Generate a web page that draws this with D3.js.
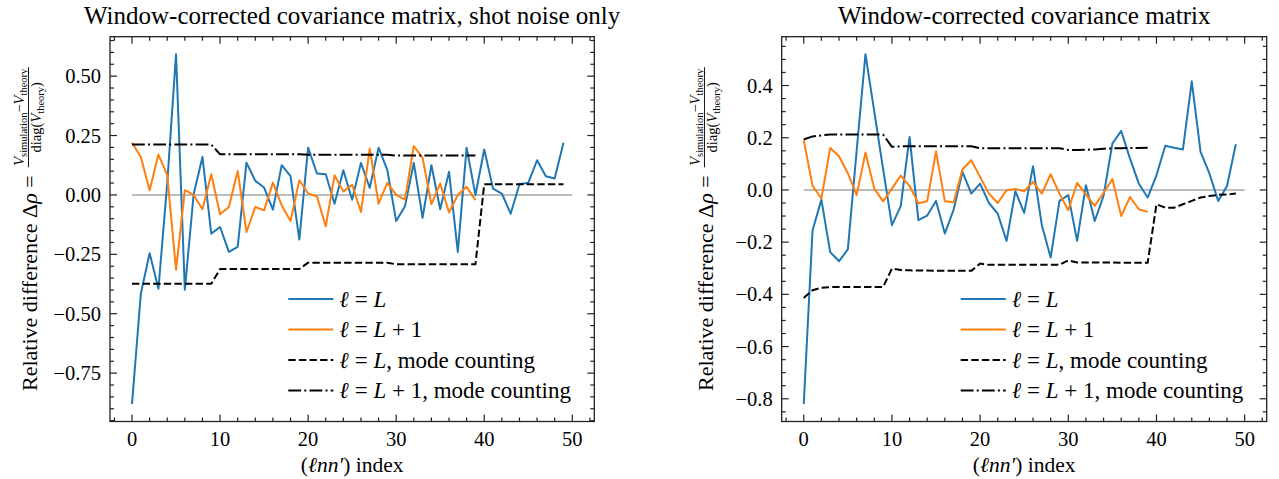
<!DOCTYPE html>
<html><head><meta charset="utf-8">
<script src="https://cdn.jsdelivr.net/npm/d3@7"></script>
<style>body{margin:0;background:#fff}svg{display:block}text{font-family:'Liberation Serif','DejaVu Serif',serif}</style>
</head><body>
<svg id="chart" width="1279" height="479"></svg>
<script>
// ---------- data ----------
const xTicks = [0, 10, 20, 30, 40, 50];
const leftYTicks = [-0.75, -0.5, -0.25, 0, 0.25, 0.5];
const rightYTicks = [-0.8, -0.6, -0.4, -0.2, 0, 0.2, 0.4];
const titles = ["Window-corrected covariance matrix, shot noise only", "Window-corrected covariance matrix"];

const leftLeqL = [-0.88, -0.416, -0.245, -0.395, 0.05, 0.5925, -0.399, 0.003, 0.160, -0.163,
  -0.135, -0.240, -0.219, 0.136, 0.059, 0.031, -0.062, 0.125, 0.079, -0.188,
  0.199, 0.090, 0.087, -0.037, 0.104, -0.020, 0.135, 0.030, 0.199, 0.104,
  -0.110, -0.048, 0.135, -0.096, 0.125, -0.060, 0.097, -0.240, 0.199, 0.000,
  0.191, 0.027, 0.006, -0.079, 0.045, 0.051, 0.146, 0.079, 0.069, 0.220];
const leftLeqL1 = [0.220, 0.160, 0.020, 0.170, 0.083, -0.315, 0.020, 0.000, -0.060, 0.087,
  -0.081, -0.051, 0.101, -0.156, -0.051, -0.065, 0.052, -0.044, -0.110, 0.062,
  0.006, -0.006, -0.132, 0.083, 0.015, 0.043, -0.072, 0.195, -0.037, 0.051,
  0.000, -0.020, 0.206, 0.156, -0.039, 0.048, -0.074, 0.000, 0.034, -0.022];
const leftModeL = [-0.374, -0.374, -0.374, -0.374, -0.374, -0.374, -0.374, -0.374, -0.374, -0.374,
  -0.312, -0.312, -0.312, -0.312, -0.312, -0.312, -0.312, -0.312, -0.312, -0.312,
  -0.285, -0.285, -0.285, -0.285, -0.285, -0.285, -0.285, -0.285, -0.285, -0.285,
  -0.292, -0.292, -0.292, -0.292, -0.292, -0.292, -0.292, -0.292, -0.292, -0.292,
  0.045, 0.045, 0.045, 0.045, 0.045, 0.045, 0.045, 0.045, 0.045, 0.045];
const leftModeL1 = [0.212, 0.212, 0.212, 0.212, 0.212, 0.212, 0.212, 0.212, 0.212, 0.212,
  0.171, 0.171, 0.171, 0.171, 0.171, 0.171, 0.171, 0.171, 0.171, 0.171,
  0.169, 0.169, 0.169, 0.169, 0.169, 0.169, 0.169, 0.169, 0.169, 0.169,
  0.166, 0.166, 0.166, 0.166, 0.166, 0.166, 0.166, 0.166, 0.166, 0.166];

const rightLeqL = [-0.82, -0.155, -0.037, -0.238, -0.273, -0.228, 0.15, 0.52, 0.30, 0.08,
  -0.135, -0.062, 0.203, -0.116, -0.098, -0.042, -0.167, -0.075, 0.069, -0.014,
  0.024, -0.050, -0.091, -0.195, -0.005, -0.088, 0.091, -0.135, -0.259, -0.042,
  -0.020, -0.195, 0.018, -0.119, -0.023, 0.178, 0.226, 0.120, 0.024, -0.029,
  0.056, 0.169, 0.162, 0.155, 0.416, 0.146, 0.063, -0.042, 0.015, 0.175];
const rightLeqL1 = [0.190, 0.016, -0.033, 0.161, 0.129, 0.064, -0.020, 0.143, 0.005, -0.044,
  0.005, 0.055, 0.015, -0.051, -0.043, 0.148, -0.043, -0.047, 0.079, 0.114,
  0.050, -0.014, -0.050, -0.001, 0.004, -0.005, 0.031, -0.014, 0.060, -0.014,
  -0.078, 0.027, -0.017, -0.061, -0.011, 0.042, -0.100, -0.027, -0.074, -0.084];
const rightModeL = [-0.414, -0.384, -0.375, -0.372, -0.372, -0.372, -0.372, -0.372, -0.372, -0.372,
  -0.301, -0.307, -0.308, -0.309, -0.309, -0.310, -0.310, -0.310, -0.310, -0.310,
  -0.282, -0.287, -0.287, -0.287, -0.287, -0.287, -0.287, -0.287, -0.287, -0.287,
  -0.270, -0.278, -0.278, -0.278, -0.278, -0.278, -0.279, -0.279, -0.279, -0.279,
  -0.055, -0.068, -0.068, -0.055, -0.042, -0.029, -0.023, -0.019, -0.017, -0.014];
const rightModeL1 = [0.193, 0.205, 0.209, 0.212, 0.212, 0.212, 0.212, 0.212, 0.212, 0.212,
  0.165, 0.167, 0.167, 0.167, 0.167, 0.167, 0.167, 0.167, 0.167, 0.167,
  0.160, 0.160, 0.160, 0.160, 0.160, 0.160, 0.160, 0.160, 0.160, 0.160,
  0.153, 0.153, 0.154, 0.155, 0.158, 0.159, 0.160, 0.161, 0.161, 0.162];

// ---------- styling ----------
const BLUE = "#1f77b4", ORANGE = "#ff7f0e";
const svg = d3.select("#chart");

function rich(textSel, parts) {
  let shift = 0;
  parts.forEach(p => {
    const target = p.dy || 0;
    const ts = textSel.append("tspan").text(p.t);
    if (target !== shift) { ts.attr("dy", target - shift); shift = target; }
    if (p.i) ts.attr("font-style", "italic");
    if (p.s) ts.attr("font-size", p.s);
  });
  return textSel;
}

const legendItems = [
  { parts: [{t:"ℓ", i:1}, {t:" = "}, {t:"L", i:1}], color: BLUE, dash: null },
  { parts: [{t:"ℓ", i:1}, {t:" = "}, {t:"L", i:1}, {t:" + 1"}], color: ORANGE, dash: null },
  { parts: [{t:"ℓ", i:1}, {t:" = "}, {t:"L", i:1}, {t:", mode counting"}], color: "#000", dash: "7.4,3.2" },
  { parts: [{t:"ℓ", i:1}, {t:" = "}, {t:"L", i:1}, {t:" + 1, mode counting"}], color: "#000", dash: "12.8,3.2,2,3.2" }
];

function panel(cfg) {
  const g = svg.append("g");
  const x = d3.scaleLinear().domain([-2.5, 52.5]).range([cfg.left, cfg.right]);
  const y = d3.scaleLinear().domain(cfg.yDomain).range([cfg.bottom, cfg.top]);

  // zero reference line
  g.append("line").attr("x1", x(0)).attr("x2", x(50)).attr("y1", y(0)).attr("y2", y(0))
    .attr("stroke", "#bdbdbd").attr("stroke-width", 2);

  const line = d3.line().x((d, i) => x(i)).y(d => y(d));
  const series = [
    { d: cfg.leqL, c: BLUE, dash: null },
    { d: cfg.leqL1, c: ORANGE, dash: null },
    { d: cfg.modeL, c: "#000", dash: "7.4,3.2" },
    { d: cfg.modeL1, c: "#000", dash: "12.8,3.2,2,3.2" }
  ];
  series.forEach(s => {
    g.append("path").datum(s.d).attr("d", line).attr("fill", "none")
      .attr("stroke", s.c).attr("stroke-width", 2).attr("stroke-linejoin", "round")
      .attr("stroke-dasharray", s.dash);
  });

  // frame
  g.append("rect").attr("x", cfg.left).attr("y", cfg.top)
    .attr("width", cfg.right - cfg.left).attr("height", cfg.bottom - cfg.top)
    .attr("fill", "none").attr("stroke", "#222").attr("stroke-width", 1.3);

  // ticks (inward on all sides)
  const MAJ = 7, MIN = 4, tc = "#222", tw = 1.2;
  const xMinor = d3.range(-2, 53, 2).filter(v => v % 10 !== 0 && v >= -2.5 && v <= 52.5);
  const yMinor = d3.range(Math.ceil(cfg.yDomain[0] / 0.05), Math.floor(cfg.yDomain[1] / 0.05) + 1)
    .map(k => k * 0.05).filter(v => !cfg.yTicks.some(t => Math.abs(t - v) < 1e-6));
  const tg = g.append("g").attr("stroke", tc).attr("stroke-width", tw);
  function xt(vals, len) {
    vals.forEach(v => {
      tg.append("line").attr("x1", x(v)).attr("x2", x(v)).attr("y1", cfg.bottom).attr("y2", cfg.bottom - len);
      tg.append("line").attr("x1", x(v)).attr("x2", x(v)).attr("y1", cfg.top).attr("y2", cfg.top + len);
    });
  }
  function yt(vals, len) {
    vals.forEach(v => {
      tg.append("line").attr("y1", y(v)).attr("y2", y(v)).attr("x1", cfg.left).attr("x2", cfg.left + len);
      tg.append("line").attr("y1", y(v)).attr("y2", y(v)).attr("x1", cfg.right).attr("x2", cfg.right - len);
    });
  }
  xt(xTicks, MAJ); xt(xMinor, MIN); yt(cfg.yTicks, MAJ); yt(yMinor, MIN);

  // tick labels
  xTicks.forEach(v => {
    g.append("text").attr("x", x(v)).attr("y", 446).attr("text-anchor", "middle")
      .attr("font-size", 20.5).text(String(v));
  });
  cfg.yTicks.forEach(v => {
    g.append("text").attr("x", cfg.left - 9).attr("y", y(v) + 7).attr("text-anchor", "end")
      .attr("font-size", 20.5).text(d3.format(cfg.fmt)(v).replace("-", "\u2212"));
  });

  // title
  g.append("text").attr("x", (cfg.left + cfg.right) / 2).attr("y", 24).attr("text-anchor", "middle")
    .attr("font-size", 25).text(cfg.title);

  // x label
  rich(g.append("text").attr("x", (cfg.left + cfg.right) / 2).attr("y", 472).attr("text-anchor", "middle")
    .attr("font-size", 21.5), [{t:"("}, {t:"ℓnn′", i:1}, {t:") index"}]);

  // y label (rotated) with fraction
  const yl = g.append("g").attr("transform", `translate(${cfg.ylabX},${(cfg.top + cfg.bottom) / 2}) rotate(-90)`)
    .attr("font-size", 22);
  const main = rich(yl.append("text").attr("x", 0).attr("y", 0),
    [{t:"Relative difference Δ"}, {t:"ρ", i:1}, {t:" ="}]);
  const mainW = main.node().getComputedTextLength();
  const num = rich(yl.append("text").attr("y", -13).attr("font-size", 14.5).attr("text-anchor", "middle"),
    [{t:"V", i:1}, {t:"simulation", s:10.5, dy:3}, {t:"−"}, {t:"V", i:1}, {t:"theory", s:10.5, dy:3}]);
  const den = rich(yl.append("text").attr("y", 4).attr("font-size", 14.5).attr("text-anchor", "middle"),
    [{t:"diag("}, {t:"V", i:1}, {t:"theory", s:10.5, dy:3}, {t:")"}]);
  const numW = num.node().getComputedTextLength();
  const denW = den.node().getComputedTextLength();
  const fracW = Math.max(numW, denW) + 3;
  const gap = 8;
  const total = mainW + gap + fracW;
  const start = -total / 2;
  main.attr("x", start);
  const fc = start + mainW + gap + fracW / 2;
  num.attr("x", fc); den.attr("x", fc);
  yl.append("line").attr("x1", fc - fracW / 2).attr("x2", fc + fracW / 2).attr("y1", -8.5).attr("y2", -8.5)
    .attr("stroke", "#000").attr("stroke-width", 0.9);

  // legend
  const lx = cfg.right - 306;
  legendItems.forEach((it, k) => {
    const cy = 299 + k * 30.5;
    g.append("line").attr("x1", lx).attr("x2", lx + 45).attr("y1", cy).attr("y2", cy)
      .attr("stroke", it.color).attr("stroke-width", 2).attr("stroke-dasharray", it.dash);
    rich(g.append("text").attr("x", lx + 51).attr("y", cy + 7.5).attr("font-size", 23), it.parts);
  });
}

panel({ left: 110, right: 594.3, top: 36.7, bottom: 421.5, yDomain: [-0.9536, 0.666],
  yTicks: leftYTicks, fmt: ".2f", title: titles[0], ylabX: 37,
  leqL: leftLeqL, leqL1: leftLeqL1, modeL: leftModeL, modeL1: leftModeL1 });
panel({ left: 781.7, right: 1266.7, top: 36.7, bottom: 421.5, yDomain: [-0.887, 0.587],
  yTicks: rightYTicks, fmt: ".1f", title: titles[1], ylabX: 713,
  leqL: rightLeqL, leqL1: rightLeqL1, modeL: rightModeL, modeL1: rightModeL1 });
</script>
</body></html>
